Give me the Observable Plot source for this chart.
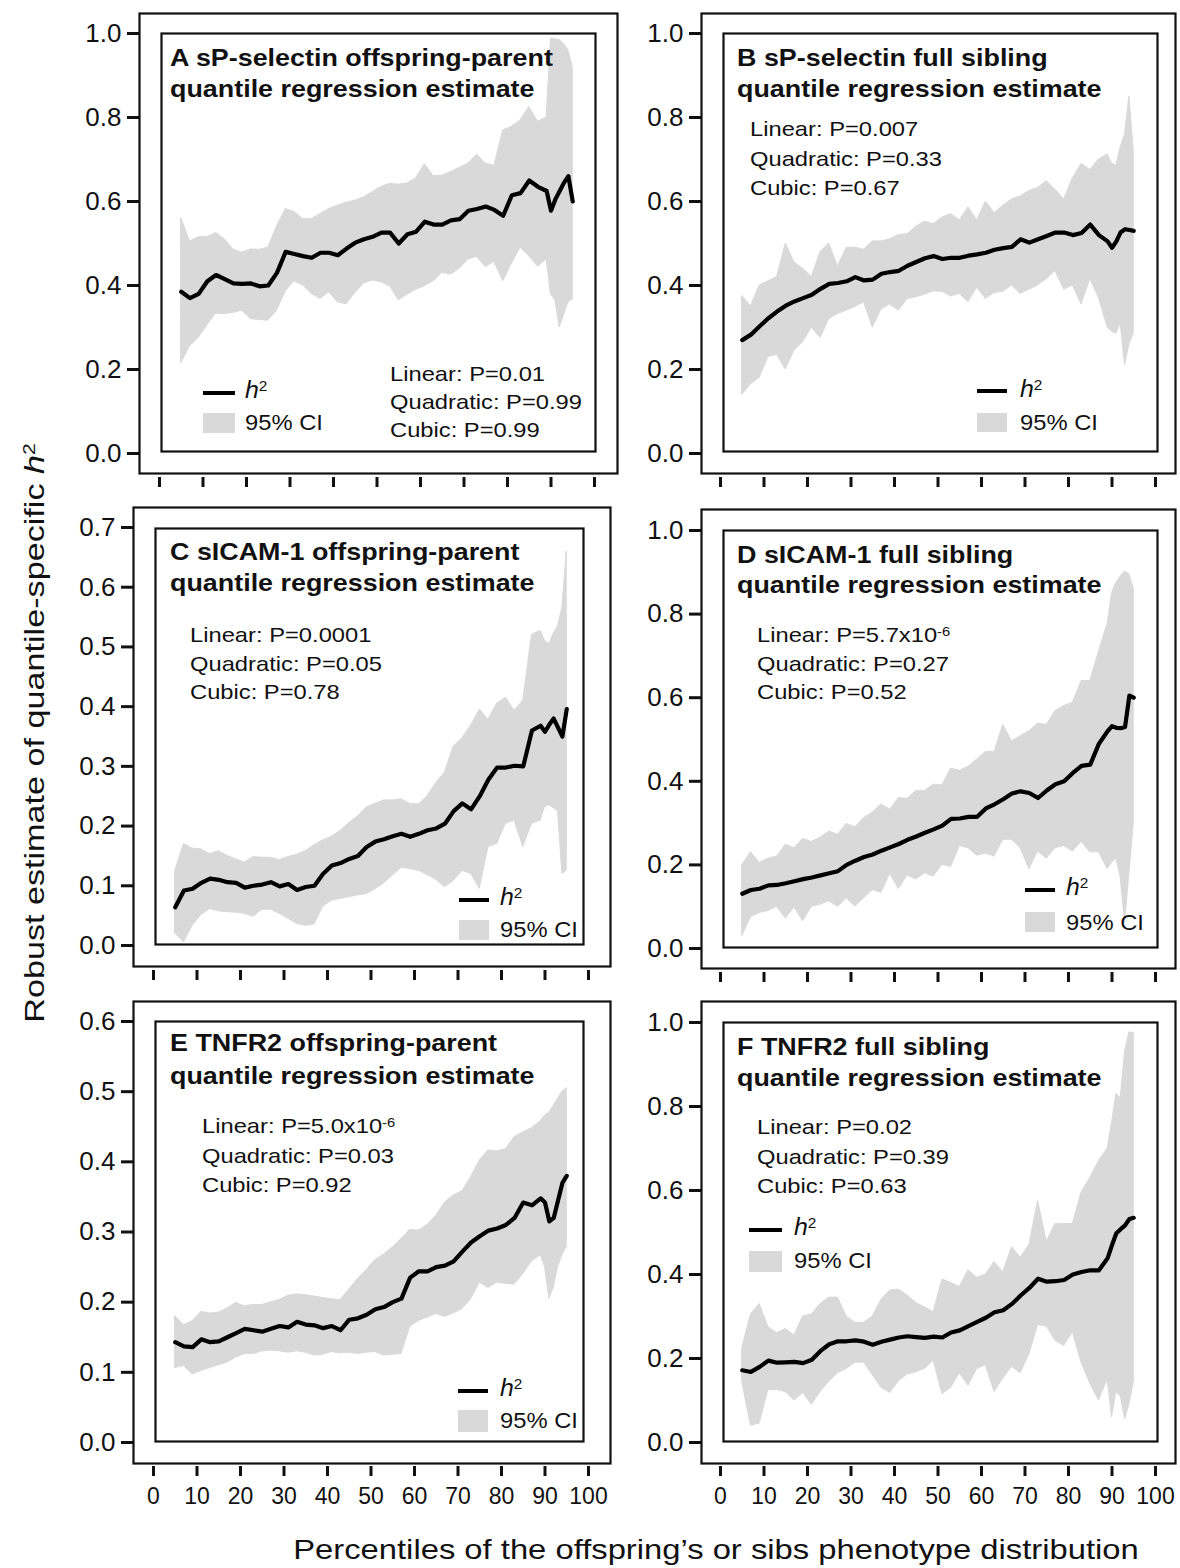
<!DOCTYPE html>
<html>
<head>
<meta charset="utf-8">
<script src="https://cdn.jsdelivr.net/npm/d3@7"></script>
<script src="https://cdn.jsdelivr.net/npm/@observablehq/plot@0.6"></script>
<style>
  html, body { margin: 0; padding: 0; background: #fff; }
  #page { position: relative; width: 1180px; height: 1568px; overflow: hidden;
          font-family: "Liberation Sans", Arial, Helvetica, sans-serif; color: #111; }
  .svgbox { position: absolute; }
  .svgbox svg { display: block; overflow: visible; }
  .txt { position: absolute; white-space: nowrap; transform-origin: 0 50%; color: #111; }
  .txt sup { font-size: 0.62em; vertical-align: 0.5em; line-height: 0; }
  .sw { position: absolute; }
  .axtitle { position: absolute; white-space: nowrap; font-size: 28px; line-height: 28px; color: #111; }
</style>
</head>
<body>
<div id="page"></div>
<script>
// ---------------- data ----------------
const percentiles = [5,7,9,11,13,15,17,19,21,23,25,27,29,31,33,35,37,39,41,43,45,47,49,51,53,55,57,59,61,63,65,67,69,71,73,75,77,79,81,83,85,87,89,90,91,92,93,94,95];

const xTicks = [0,10,20,30,40,50,60,70,80,90,100];
const yTicks10 = [0,0.2,0.4,0.6,0.8,1.0];
const yTicks07 = [0,0.1,0.2,0.3,0.4,0.5,0.6,0.7];
const yTicks06 = [0,0.1,0.2,0.3,0.4,0.5,0.6];

// A sP-selectin offspring-parent
const A_h2 = [.385,.37,.38,.41,.425,.415,.405,.404,.405,.398,.40,.43,.48,.475,.47,.466,.478,.478,.472,.488,.502,.51,.516,.526,.526,.50,.522,.528,.552,.545,.545,.555,.558,.578,.582,.588,.58,.566,.615,.62,.65,.635,.625,.578,.605,.625,.645,.66,.60];
const A_hi = [.56,.505,.515,.515,.525,.51,.485,.478,.486,.485,.49,.54,.582,.575,.558,.558,.57,.582,.59,.597,.602,.61,.622,.635,.642,.64,.643,.655,.689,.66,.662,.67,.68,.69,.712,.69,.685,.769,.778,.793,.825,.79,.80,.988,.986,.984,.975,.96,.92];
const A_lo = [.215,.255,.275,.305,.333,.332,.335,.34,.32,.318,.316,.34,.386,.41,.40,.38,.368,.384,.36,.355,.382,.405,.412,.408,.398,.365,.378,.39,.398,.41,.43,.426,.44,.462,.468,.444,.456,.41,.452,.49,.47,.445,.462,.378,.365,.30,.33,.36,.367];

// B sP-selectin full sibling
const B_h2 = [.27,.283,.303,.322,.338,.352,.362,.37,.378,.392,.404,.406,.41,.42,.412,.414,.428,.432,.435,.447,.456,.465,.47,.463,.466,.466,.471,.474,.478,.485,.489,.492,.51,.502,.51,.518,.526,.526,.52,.525,.545,.52,.505,.49,.505,.527,.534,.532,.53];
const B_hi = [.375,.35,.40,.41,.42,.50,.455,.44,.42,.48,.50,.445,.49,.49,.485,.505,.505,.51,.52,.522,.54,.552,.546,.562,.57,.555,.586,.555,.60,.572,.59,.605,.612,.625,.632,.648,.628,.605,.655,.69,.675,.70,.712,.69,.685,.73,.76,.85,.72];
const B_lo = [.14,.165,.18,.23,.235,.20,.245,.265,.30,.275,.32,.332,.34,.349,.36,.30,.343,.355,.34,.368,.372,.378,.386,.385,.374,.38,.36,.395,.368,.382,.385,.40,.38,.39,.40,.415,.434,.39,.40,.355,.415,.37,.30,.29,.285,.31,.21,.26,.285];

// C sICAM-1 offspring-parent
const C_h2 = [.064,.092,.095,.105,.112,.11,.106,.105,.097,.10,.102,.106,.099,.103,.093,.098,.10,.12,.134,.138,.145,.15,.165,.174,.178,.183,.187,.182,.187,.193,.196,.204,.225,.238,.228,.25,.278,.298,.298,.301,.30,.36,.368,.358,.37,.38,.365,.35,.396];
const C_hi = [.125,.17,.162,.161,.153,.158,.15,.144,.139,.148,.147,.147,.143,.148,.152,.158,.168,.176,.182,.192,.205,.216,.231,.237,.243,.243,.245,.237,.236,.25,.272,.29,.333,.347,.368,.395,.378,.405,.415,.393,.41,.52,.527,.51,.505,.522,.535,.565,.66];
const C_lo = [.02,.005,.033,.051,.061,.057,.056,.055,.053,.048,.06,.06,.053,.045,.036,.033,.035,.065,.075,.078,.081,.084,.086,.094,.104,.117,.13,.128,.125,.118,.11,.098,.108,.125,.12,.095,.165,.17,.204,.209,.165,.204,.209,.232,.235,.23,.224,.12,.125];

// D sICAM-1 full sibling
const D_h2 = [.131,.14,.143,.151,.152,.156,.161,.166,.17,.175,.18,.185,.20,.21,.219,.225,.234,.242,.25,.26,.268,.277,.285,.294,.31,.311,.315,.315,.335,.345,.357,.371,.376,.372,.36,.378,.393,.40,.42,.437,.44,.49,.52,.532,.528,.527,.53,.605,.60];
const D_hi = [.20,.23,.205,.215,.22,.248,.24,.262,.255,.265,.28,.272,.298,.29,.312,.325,.345,.332,.36,.358,.377,.377,.392,.39,.43,.425,.435,.452,.47,.47,.535,.495,.508,.52,.538,.535,.568,.58,.588,.64,.64,.71,.777,.85,.875,.89,.902,.895,.86];
const D_lo = [.03,.075,.085,.09,.10,.072,.098,.065,.10,.105,.113,.10,.12,.10,.12,.14,.133,.179,.142,.175,.165,.18,.172,.20,.195,.245,.24,.222,.227,.22,.26,.26,.24,.19,.232,.215,.24,.245,.232,.255,.23,.23,.19,.205,.215,.17,.06,.18,.30];

// E TNFR2 offspring-parent
const E_h2 = [.143,.137,.136,.147,.143,.144,.15,.156,.162,.16,.158,.162,.166,.164,.172,.168,.167,.163,.166,.16,.175,.177,.182,.19,.193,.20,.205,.235,.244,.244,.25,.252,.258,.272,.285,.294,.302,.305,.31,.32,.342,.338,.348,.342,.315,.32,.345,.37,.38];
const E_hi = [.18,.167,.173,.186,.184,.185,.191,.199,.194,.196,.196,.20,.203,.209,.211,.21,.208,.206,.204,.203,.218,.233,.246,.26,.268,.278,.29,.303,.302,.31,.323,.342,.352,.358,.378,.402,.416,.415,.418,.435,.442,.448,.458,.466,.47,.48,.49,.50,.505];
const E_lo = [.106,.109,.097,.102,.106,.11,.114,.121,.126,.126,.13,.131,.13,.128,.13,.128,.124,.125,.129,.127,.128,.126,.128,.129,.124,.125,.126,.165,.173,.178,.183,.179,.184,.19,.204,.228,.22,.228,.226,.225,.24,.258,.267,.25,.205,.22,.25,.267,.279];

// F TNFR2 full sibling
const F_h2 = [.172,.168,.18,.195,.19,.191,.192,.189,.197,.218,.234,.241,.241,.243,.24,.233,.24,.245,.25,.253,.251,.249,.252,.25,.262,.267,.277,.287,.297,.31,.315,.33,.35,.368,.39,.383,.384,.387,.40,.406,.41,.41,.439,.47,.498,.508,.517,.532,.535];
const F_hi = [.225,.305,.33,.275,.26,.27,.255,.30,.305,.33,.345,.345,.30,.285,.285,.30,.34,.362,.364,.35,.332,.322,.31,.388,.38,.37,.41,.392,.40,.43,.405,.465,.44,.47,.575,.478,.52,.52,.52,.595,.63,.67,.70,.76,.83,.82,.93,.976,.976];
const F_lo = [.144,.04,.045,.125,.125,.12,.10,.118,.09,.12,.145,.165,.175,.19,.19,.16,.13,.118,.146,.162,.167,.175,.195,.115,.13,.165,.135,.175,.184,.12,.152,.18,.165,.21,.28,.276,.242,.23,.262,.19,.14,.10,.15,.06,.12,.11,.055,.09,.144];

// texts
const titles = {
  A: ["A sP-selectin offspring-parent", "quantile regression estimate"],
  B: ["B sP-selectin full sibling", "quantile regression estimate"],
  C: ["C sICAM-1 offspring-parent", "quantile regression estimate"],
  D: ["D sICAM-1 full sibling", "quantile regression estimate"],
  E: ["E TNFR2 offspring-parent", "quantile regression estimate"],
  F: ["F TNFR2 full sibling", "quantile regression estimate"]
};
const pvalues = {
  A: ["Linear: P=0.01", "Quadratic: P=0.99", "Cubic: P=0.99"],
  B: ["Linear: P=0.007", "Quadratic: P=0.33", "Cubic: P=0.67"],
  C: ["Linear: P=0.0001", "Quadratic: P=0.05", "Cubic: P=0.78"],
  D: ["Linear: P=5.7x10<sup>-6</sup>", "Quadratic: P=0.27", "Cubic: P=0.52"],
  E: ["Linear: P=5.0x10<sup>-6</sup>", "Quadratic: P=0.03", "Cubic: P=0.92"],
  F: ["Linear: P=0.02", "Quadratic: P=0.39", "Cubic: P=0.63"]
};
const legendLabels = ["<i>h</i><sup>2</sup>", "95% CI"];
const yTitle = "Robust estimate of quantile-specific <i>h</i><sup>2</sup>";
const xTitle = "Percentiles of the offspring\u2019s or sibs phenotype distribution";

// ---------------- layout (page pixel positions, styles) ----------------
const layout = {
  A: {outer:[139,617,13,473], tick0:477, xr:[159,594], yr:[453,33], inner:[161,595,33,451], ymax:1.0, yTicks:yTicks10, xLabels:false,
      title:[170,58,89], pv:[390,373,401,429], lg:{lx:[203,235], ly:393, tx:245, hy:390, ry:[413,433], cy:423}},
  B: {outer:[701,1175,13,473], tick0:477, xr:[720,1155], yr:[453,33], inner:[723,1157,33,451], ymax:1.0, yTicks:yTicks10, xLabels:false,
      title:[737,58,89], pv:[750,128,158,187], lg:{lx:[977,1007], ly:391, tx:1020, hy:389, ry:[413,432], cy:423}},
  C: {outer:[133,610,507,966], tick0:970, xr:[153,588], yr:[945,527], inner:[155,583,528,944], ymax:0.7, yTicks:yTicks07, xLabels:false,
      title:[170,552,583], pv:[190,634,663,691], lg:{lx:[459,489], ly:900, tx:500, hy:897, ry:[920,940], cy:930}},
  D: {outer:[701,1175,509,968], tick0:972, xr:[720,1155], yr:[948,530], inner:[723,1157,530,947], ymax:1.0, yTicks:yTicks10, xLabels:false,
      title:[737,555,585], pv:[757,634,663,691], lg:{lx:[1025,1055], ly:890, tx:1066, hy:887, ry:[912,932], cy:923}},
  E: {outer:[133,610,1001,1463], tick0:1466, xr:[153,588], yr:[1442,1021], inner:[155,583,1021,1441], ymax:0.6, yTicks:yTicks06, xLabels:true,
      title:[170,1043,1076], pv:[202,1125,1155,1184], lg:{lx:[458,488], ly:1391, tx:500, hy:1388, ry:[1410,1432], cy:1421}},
  F: {outer:[701,1175,1001,1463], tick0:1466, xr:[720,1155], yr:[1442,1022], inner:[723,1157,1022,1441], ymax:1.0, yTicks:yTicks10, xLabels:true,
      title:[737,1047,1078], pv:[757,1126,1156,1185], lg:{lx:[749,782], ly:1230, tx:794, hy:1227, ry:[1251,1272], cy:1261}}
};

const series = {
  A: [A_h2, A_lo, A_hi], B: [B_h2, B_lo, B_hi], C: [C_h2, C_lo, C_hi],
  D: [D_h2, D_lo, D_hi], E: [E_h2, E_lo, E_hi], F: [F_h2, F_lo, F_hi]
};

const CI_FILL = "#d9d9d9";
const FONT = "'Liberation Sans', Arial, Helvetica, sans-serif";
const page = document.getElementById("page");

function addText(html, x, cy, fs, opts = {}) {
  const d = document.createElement("div");
  d.className = "txt";
  d.style.left = x + "px";
  d.style.top = (cy - fs * 0.5) + "px";
  d.style.fontSize = fs + "px";
  d.style.lineHeight = fs + "px";
  d.style.fontWeight = opts.bold ? "bold" : "normal";
  d.style.transform = `scaleX(${opts.sx || 1})`;
  d.innerHTML = html;
  page.appendChild(d);
}
function addSwatch(x0, x1, y0, y1, color) {
  const d = document.createElement("div");
  d.className = "sw";
  d.style.left = x0 + "px"; d.style.top = y0 + "px";
  d.style.width = (x1 - x0) + "px"; d.style.height = (y1 - y0) + "px";
  d.style.background = color;
  page.appendChild(d);
}

for (const key of Object.keys(layout)) {
  const g = layout[key];
  const [h2, lo, hi] = series[key];
  const data = percentiles.map((p, i) => ({p, h2: h2[i], lo: lo[i], hi: hi[i]}));
  const [oL, oR, oT, oB] = g.outer;
  const [iL, iR, iT, iB] = g.inner;
  const sL = oL - 92, sR = oR + 4, sT = oT - 4, sB = g.tick0 + (g.xLabels ? 50 : 16);

  const chart = Plot.plot({
    width: sR - sL,
    height: sB - sT,
    marginLeft: oL - sL,
    marginRight: sR - oR,
    marginTop: oT - sT,
    marginBottom: sB - g.tick0,
    style: {background: "transparent", fontFamily: FONT, color: "#111", overflow: "visible"},
    x: {domain: [0, 100], range: [g.xr[0] - sL, g.xr[1] - sL]},
    y: {domain: [0, g.ymax], range: [g.yr[0] - sT, g.yr[1] - sT]},
    marks: [
      Plot.areaY(data, {x: "p", y1: "lo", y2: "hi", fill: CI_FILL, stroke: CI_FILL, strokeWidth: 1}),
      Plot.line(data, {x: "p", y: "h2", stroke: "#000", strokeWidth: 4.2, strokeLinejoin: "round"}),
      Plot.frame({stroke: "#111", strokeWidth: 2.2, insetBottom: g.tick0 - oB}),
      Plot.frame({stroke: "#111", strokeWidth: 2.2,
                  insetLeft: iL - oL, insetRight: oR - iR, insetTop: iT - oT, insetBottom: g.tick0 - iB}),
      Plot.axisY({ticks: g.yTicks, tickFormat: d3.format(".1f"), tickSize: 12, tickPadding: 6,
                  strokeWidth: 3, fontSize: 26, label: null}),
      Plot.axisX({ticks: xTicks, tickFormat: g.xLabels ? (d => String(d)) : (() => ""),
                  tickSize: 10, tickPadding: 11, strokeWidth: 3, fontSize: 23, label: null})
    ]
  });

  const box = document.createElement("div");
  box.className = "svgbox";
  box.style.left = sL + "px";
  box.style.top = sT + "px";
  box.style.width = (sR - sL) + "px";
  box.style.height = (sB - sT) + "px";
  box.appendChild(chart);
  page.appendChild(box);

  // panel title
  addText(titles[key][0], g.title[0], g.title[1], 24, {bold: true, sx: 1.12});
  addText(titles[key][1], g.title[0], g.title[2], 24, {bold: true, sx: 1.12});
  // p-values
  pvalues[key].forEach((t, i) => addText(t, g.pv[0], g.pv[1 + i], 21, {sx: 1.13}));
  // legend
  const lg = g.lg;
  addSwatch(lg.lx[0], lg.lx[1], lg.ly - 2, lg.ly + 2, "#000");
  addText(legendLabels[0], lg.tx, lg.hy, 23, {sx: 1.08});
  addSwatch(lg.lx[0], lg.lx[1], lg.ry[0], lg.ry[1], CI_FILL);
  addText(legendLabels[1], lg.tx, lg.cy, 22, {sx: 1.08});
}

// axis titles
const yt = document.createElement("div");
yt.className = "axtitle";
yt.innerHTML = yTitle.replace("<sup>", "<sup style='font-size:0.62em;vertical-align:0.5em;line-height:0'>");
page.appendChild(yt);
yt.style.left = "35px"; yt.style.top = "733px";
yt.style.transform = "translate(-50%,-50%) rotate(-90deg) scaleX(1.22)";

const xt = document.createElement("div");
xt.className = "axtitle";
xt.textContent = xTitle;
page.appendChild(xt);
xt.style.left = "716px"; xt.style.top = "1550px";
xt.style.transform = "translate(-50%,-50%) scaleX(1.17)";
</script>
</body>
</html>
